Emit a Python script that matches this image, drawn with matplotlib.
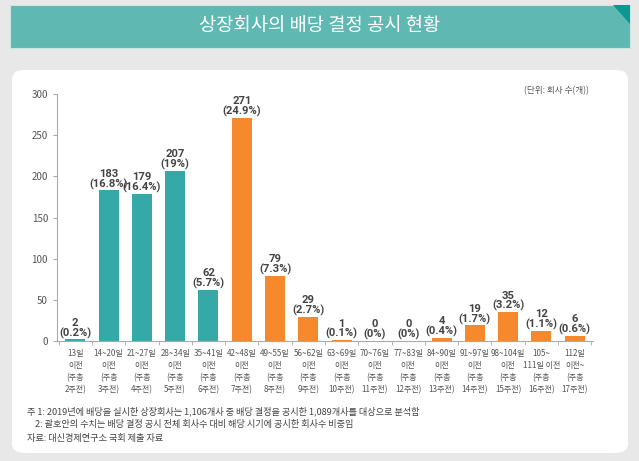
import matplotlib.pyplot as plt
from matplotlib.patches import Rectangle, Polygon, FancyBboxPatch

plt.rcParams['font.family'] = ['Noto Sans CJK KR', 'DejaVu Sans']

categories = ["13일\n이전\n(주총\n2주전)", "14~20일\n이전\n(주총\n3주전)", "21~27일\n이전\n(주총\n4주전)",
              "28~34일\n이전\n(주총\n5주전)", "35~41일\n이전\n(주총\n6주전)", "42~48일\n이전\n(주총\n7주전)",
              "49~55일\n이전\n(주총\n8주전)", "56~62일\n이전\n(주총\n9주전)", "63~69일\n이전\n(주총\n10주전)",
              "70~76일\n이전\n(주총\n11주전)", "77~83일\n이전\n(주총\n12주전)", "84~90일\n이전\n(주총\n13주전)",
              "91~97일\n이전\n(주총\n14주전)", "98~104일\n이전\n(주총\n15주전)", "105~\n111일 이전\n(주총\n16주전)",
              "112일\n이전~\n(주총\n17주전)"]
counts = [2, 183, 179, 207, 62, 271, 79, 29, 1, 0, 0, 4, 19, 35, 12, 6]
shares = ["0.2%", "16.8%", "16.4%", "19%", "5.7%", "24.9%", "7.3%", "2.7%", "0.1%",
          "0%", "0%", "0.4%", "1.7%", "3.2%", "1.1%", "0.6%"]
teal, orange = "#35a9a7", "#f5892b"
colors = [teal] * 5 + [orange] * 11

fig = plt.figure(figsize=(6.39, 4.61), dpi=100, facecolor="#e9e8e8")

# title banner
W, H = 639, 461
fig.patches.append(Rectangle((10 / W, 1 - 48 / H), 620 / W, 43 / H, transform=fig.transFigure,
                             facecolor="#60b8b3", edgecolor="#c9e6e4", lw=0.8, zorder=-2))
fig.patches.append(Polygon([(613 / W, 1 - 5 / H), (630 / W, 1 - 5 / H), (630 / W, 1 - 24 / H)],
                           closed=True, transform=fig.transFigure, facecolor="#0c9793", zorder=-1))
fig.text(0.5, 1 - 26 / H, "상장회사의 배당 결정 공시 현황", color="white", fontsize=13.5,
         ha="center", va="center")

# white panel
fig.patches.append(FancyBboxPatch((12 / W, 1 - 453 / H), 616 / W, 383 / H,
                                  boxstyle="round,pad=0,rounding_size=0.02",
                                  transform=fig.transFigure, facecolor="white", edgecolor="none",
                                  zorder=-2))

ax = fig.add_axes([57 / W, 1 - 341 / H, (593 - 57) / W, (341 - 94) / H])
ax.set_facecolor("none")
x = list(range(len(counts)))
ax.bar(x, counts, width=0.6, color=colors)
for xi, c, s in zip(x, counts, shares):
    ax.text(xi, c + 1, f"{c}\n({s})", ha="center", va="bottom", fontsize=8.1,
            fontweight="bold", color="#444444", linespacing=0.95,
            family=["Roboto", "DejaVu Sans"])

ax.set_xlim(-0.55, len(counts) - 0.45)
ax.set_ylim(0, 300)
ax.set_yticks(range(0, 301, 50))
ax.tick_params(axis="y", labelsize=7, colors="#555555", length=3, color="#aaaaaa")
ax.set_xticks(x)
ax.set_xticklabels(categories, fontsize=5.8, color="#555555", linespacing=1.4)
ax.tick_params(axis="x", length=0, pad=6)
ax.set_xticks([i + 0.5 for i in range(-1, len(counts))], minor=True)
ax.tick_params(axis="x", which="minor", length=3, color="#aaaaaa")
for side in ["top", "right"]:
    ax.spines[side].set_visible(False)
for side in ["left", "bottom"]:
    ax.spines[side].set_color("#aaaaaa")
    ax.spines[side].set_linewidth(0.8)

fig.text(589 / W, 1 - 91 / H, "(단위: 회사 수(개))", fontsize=6.2, color="#555555",
         ha="right", va="center")

notes = ["주 1: 2019년에 배당을 실시한 상장회사는 1,106개사 중 배당 결정을 공시한 1,089개사를 대상으로 분석함",
         "    2: 괄호안의 수치는 배당 결정 공시 전체 회사수 대비 해당 시기에 공시한 회사수 비중임",
         "자료: 대신경제연구소 국회 제출 자료"]
for i, n in enumerate(notes):
    fig.text(27 / W, 1 - (411 + 13.5 * i) / H, n, fontsize=6.6, color="#444444", va="center")

fig.savefig("out.png", dpi=100, facecolor=fig.get_facecolor())
